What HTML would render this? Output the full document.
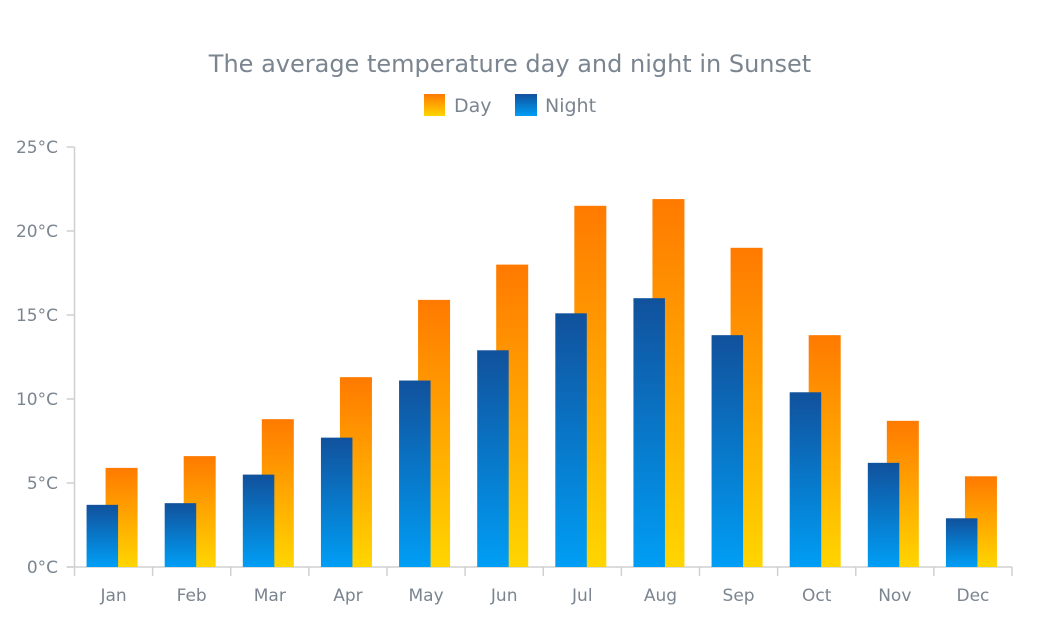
<!DOCTYPE html>
<html><head><meta charset="utf-8"><style>
body{margin:0;background:#fff;font-family:"Liberation Sans","DejaVu Sans",sans-serif}
svg text{font-family:"DejaVu Sans","Liberation Sans",sans-serif;fill:#7a8590}
</style></head><body>
<svg id="c" width="1059" height="633">
<defs>
<linearGradient id="gd" x1="0" y1="0" x2="0" y2="1"><stop offset="0" stop-color="#ff7a00"/><stop offset="1" stop-color="#ffd500"/></linearGradient>
<linearGradient id="gn" x1="0" y1="0" x2="0" y2="1"><stop offset="0" stop-color="#11519c"/><stop offset="1" stop-color="#009ef5"/></linearGradient>
</defs>
<text x="510" y="72" font-size="24" text-anchor="middle">The average temperature day and night in Sunset</text>
<g><rect x="424" y="94" width="21" height="22" fill="url(#gd)"/><text x="454" y="112" font-size="19">Day</text></g>
<g><rect x="515" y="94" width="22" height="22" fill="url(#gn)"/><text x="545" y="112" font-size="19">Night</text></g>
<g id="axes"></g><g id="bars"></g>
</svg>
<script>
const categories=["Jan","Feb","Mar","Apr","May","Jun","Jul","Aug","Sep","Oct","Nov","Dec"];
const dayValues=[5.9,6.6,8.8,11.3,15.9,18.0,21.5,21.9,19.0,13.8,8.7,5.4];
const nightValues=[3.7,3.8,5.5,7.7,11.1,12.9,15.1,16.0,13.8,10.4,6.2,2.9];
const yTicks=[0,5,10,15,20,25];
const NS="http://www.w3.org/2000/svg";
const x0=74.5,x1=1012,y0=567,y1=147,yMax=25;
const band=(x1-x0)/categories.length;
function y(v){return y0-(v/yMax)*(y0-y1);}
function bx(i){return x0+i*band;}
function mk(t,a,p){const e=document.createElementNS(NS,t);for(const k in a)e.setAttribute(k,a[k]);p.appendChild(e);return e;}
const ax=document.getElementById('axes'),bars=document.getElementById('bars');
const yl=mk('line',{x1:x0,y1:y1,x2:x0,y2:y0,stroke:'#d0d0d0','stroke-width':1.5},ax);


const xl=mk('line',{x1:x0-8,y1:y0,x2:x1,y2:y0,stroke:'#d0d0d0','stroke-width':1.5},ax);


yTicks.forEach(v=>{
 mk('line',{x1:x0-8,y1:y(v),x2:x0,y2:y(v),stroke:'#d0d0d0','stroke-width':1.5},ax);
 const t=mk('text',{x:58,y:y(v)+6,'font-size':17,'text-anchor':'end'},ax);t.textContent=v+'°C';
 
 
});
for(let i=0;i<=categories.length;i++)mk('line',{x1:bx(i),y1:y0,x2:bx(i),y2:y0+9,stroke:'#d0d0d0','stroke-width':1.5},ax);
categories.forEach((c,i)=>{
 const cx=bx(i)+band/2;
 const t=mk('text',{x:cx,y:601,'font-size':17,'text-anchor':'middle'},ax);t.textContent=c;
 
 
 const d=mk('rect',{x:cx-8,y:y(dayValues[i]),width:32,height:y0-y(dayValues[i]),fill:'url(#gd)'},bars);
 
 
 const n=mk('rect',{x:cx-27,y:y(nightValues[i]),width:31.5,height:y0-y(nightValues[i]),fill:'url(#gn)'},bars);
 
 
});
</script>
</body></html>
